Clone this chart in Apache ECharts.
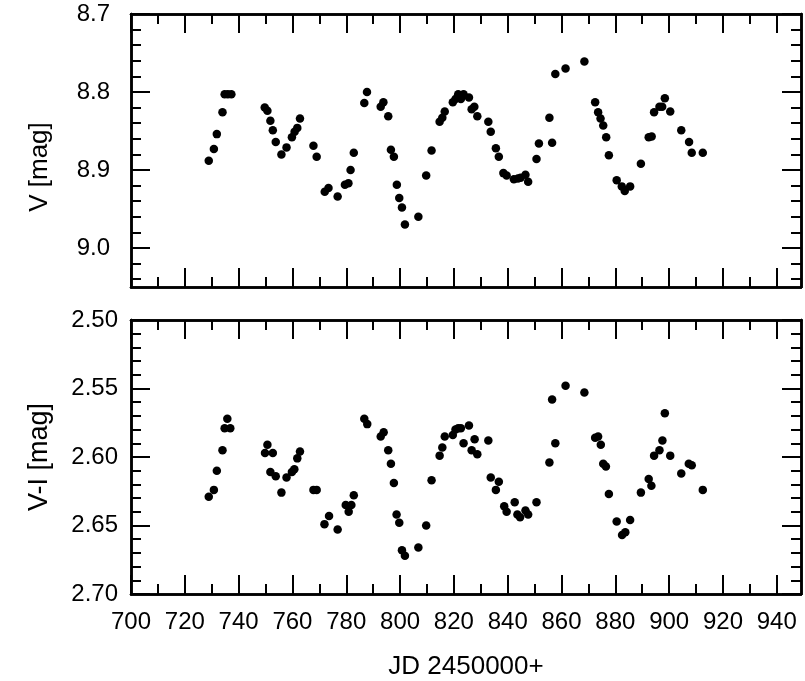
<!DOCTYPE html>
<html>
<head>
<meta charset="utf-8">
<script src="https://cdn.jsdelivr.net/npm/echarts@6/dist/echarts.min.js"></script>
<style>
html, body { margin: 0; padding: 0; background: #fff; }
#chart { width: 805px; height: 681px; }
</style>
</head>
<body>
<div id="chart"></div>
<script>
// V light curve (JD - 2450000, V mag)
const jdV = [728.9, 730.8, 731.9, 734.0, 734.8, 736.0, 737.3, 749.7, 750.7, 751.8,
  752.7, 753.8, 755.9, 757.8, 759.8, 760.8, 761.8, 762.8, 767.8, 769.0,
  772.0, 773.4, 776.8, 779.5, 780.8, 781.6, 782.8, 786.7, 787.7, 792.8,
  793.8, 795.6, 796.6, 797.7, 798.8, 799.7, 800.7, 801.8, 806.8, 809.7,
  811.7, 814.7, 815.7, 816.6, 819.6, 820.6, 821.6, 822.6, 823.6, 825.6,
  826.6, 827.6, 828.7, 832.8, 833.7, 835.6, 836.7, 838.4, 839.6, 842.3,
  843.8, 844.8, 846.6, 847.6, 850.7, 851.6, 855.5, 856.5, 857.7, 861.5,
  868.5, 872.5, 873.6, 874.5, 875.5, 876.6, 877.6, 880.5, 882.4, 883.5,
  885.5, 889.5, 892.4, 893.5, 894.4, 896.4, 897.4, 898.4, 900.4, 904.5,
  907.4, 908.4, 912.5]
const magV = [8.888, 8.873, 8.854, 8.826, 8.803, 8.803, 8.803, 8.820, 8.824, 8.837,
  8.849, 8.864, 8.880, 8.871, 8.858, 8.851, 8.846, 8.834, 8.869, 8.883,
  8.928, 8.923, 8.934, 8.919, 8.917, 8.900, 8.878, 8.814, 8.800, 8.819,
  8.813, 8.831, 8.874, 8.883, 8.919, 8.936, 8.948, 8.970, 8.960, 8.907,
  8.875, 8.838, 8.833, 8.825, 8.813, 8.809, 8.803, 8.809, 8.803, 8.807,
  8.822, 8.819, 8.831, 8.838, 8.851, 8.872, 8.883, 8.904, 8.907, 8.912,
  8.911, 8.910, 8.906, 8.915, 8.886, 8.866, 8.833, 8.865, 8.777, 8.770,
  8.761, 8.813, 8.826, 8.834, 8.843, 8.858, 8.881, 8.913, 8.921, 8.927,
  8.921, 8.892, 8.858, 8.857, 8.826, 8.819, 8.819, 8.808, 8.825, 8.849,
  8.864, 8.878, 8.878]

// V-I colour curve
const jdVI = [728.9, 730.8, 731.9, 734.0, 734.8, 735.8, 736.9, 749.8, 750.7, 751.8,
  752.7, 753.8, 755.9, 757.8, 759.8, 760.7, 761.8, 762.8, 767.8, 769.0,
  771.9, 773.6, 776.8, 779.8, 780.9, 781.9, 782.8, 786.7, 787.8, 792.8,
  793.9, 795.6, 796.6, 797.7, 798.7, 799.7, 800.7, 801.8, 806.8, 809.7,
  811.7, 814.7, 815.7, 816.6, 819.6, 820.6, 821.6, 822.6, 823.6, 825.6,
  826.6, 827.7, 828.7, 832.8, 833.7, 835.6, 836.7, 838.7, 839.6, 842.6,
  843.6, 844.6, 846.6, 847.6, 850.7, 855.5, 856.5, 857.7, 861.5, 868.5,
  872.5, 873.6, 874.6, 875.5, 876.5, 877.6, 880.5, 882.5, 883.7, 885.5,
  889.5, 892.4, 893.4, 894.4, 896.4, 897.5, 898.4, 900.4, 904.5, 907.3,
  908.4, 912.5]
const colVI = [2.629, 2.624, 2.610, 2.595, 2.579, 2.572, 2.579, 2.597, 2.591, 2.611,
  2.597, 2.614, 2.626, 2.615, 2.611, 2.609, 2.601, 2.596, 2.624, 2.624,
  2.649, 2.643, 2.653, 2.635, 2.640, 2.635, 2.628, 2.572, 2.576, 2.585,
  2.582, 2.595, 2.605, 2.619, 2.642, 2.648, 2.668, 2.672, 2.666, 2.650,
  2.617, 2.599, 2.593, 2.585, 2.584, 2.580, 2.579, 2.579, 2.590, 2.577,
  2.595, 2.587, 2.598, 2.588, 2.615, 2.624, 2.618, 2.636, 2.640, 2.633,
  2.642, 2.644, 2.639, 2.642, 2.633, 2.604, 2.558, 2.590, 2.548, 2.553,
  2.586, 2.585, 2.591, 2.605, 2.607, 2.627, 2.647, 2.657, 2.655, 2.646,
  2.626, 2.616, 2.621, 2.599, 2.595, 2.588, 2.568, 2.599, 2.612, 2.605,
  2.606, 2.624]

// tick positions
const xMajor = [700, 720, 740, 760, 780, 800, 820, 840, 860, 880, 900, 920, 940]
const xMinor = [710, 730, 750, 770, 790, 810, 830, 850, 870, 890, 910, 930]
const vMajor = [8.7, 8.8, 8.9, 9.0]
const vMinor = [8.72, 8.74, 8.76, 8.78, 8.82, 8.84, 8.86, 8.88, 8.92, 8.94, 8.96, 8.98, 9.02, 9.04]
const viMajor = [2.50, 2.55, 2.60, 2.65, 2.70]
const viMinor = [2.51, 2.52, 2.53, 2.54, 2.56, 2.57, 2.58, 2.59, 2.61, 2.62, 2.63, 2.64,
  2.66, 2.67, 2.68, 2.69]

const ink = '#000'
const font = 'Liberation Sans'

const tick = (values, len) => ({
    show: true, inside: true, length: len, customValues: values,
    lineStyle: { color: ink, width: 2 }
})
const line = { show: true, onZero: false, lineStyle: { color: ink, width: 2.5 } }

// four axes per side pair: main (with labels), minor, mirrored major, mirrored minor
function makeAxes(grid, min, max, major, minor, opts) {
    const base = { type: 'value', gridIndex: grid, min: min, max: max, inverse: !!opts.inverse,
        axisLine: line, splitLine: { show: false }, axisLabel: { show: false } }
    return [
        Object.assign({}, base, { position: opts.pos[0], axisTick: tick(major, 19), axisLabel: opts.label || { show: false } }, opts.name || {}),
        Object.assign({}, base, { position: opts.pos[0], axisTick: tick(minor, 10) }),
        Object.assign({}, base, { position: opts.pos[1], axisTick: tick(major, 19) }),
        Object.assign({}, base, { position: opts.pos[1], axisTick: tick(minor, 10) })
    ]
}

const labelStyle = (values, digits, margin) => ({
    show: true, customValues: values, color: ink, fontFamily: font, fontSize: 24, margin: margin,
    formatter: (v) => v.toFixed(digits)
})

const xAxis = [].concat(
    makeAxes(0, 700, 949, xMajor, xMinor, { pos: ['bottom', 'top'] }),
    makeAxes(1, 700, 949, xMajor, xMinor, {
        pos: ['bottom', 'top'],
        label: labelStyle(xMajor, 0, 16),
        name: { name: 'JD 2450000+', nameLocation: 'middle', nameGap: 60,
            nameTextStyle: { color: ink, fontFamily: font, fontSize: 26 } }
    })
)
const yAxis = [].concat(
    makeAxes(0, 8.7, 9.05, vMajor, vMinor, {
        pos: ['left', 'right'], inverse: true,
        label: labelStyle(vMajor, 1, 21),
        name: { name: 'V [mag]', nameLocation: 'middle', nameGap: 78, nameRotate: 90,
            nameTextStyle: { color: ink, fontFamily: font, fontSize: 26, padding: [0, 33, 0, 0] } }
    }),
    makeAxes(1, 2.5, 2.7, viMajor, viMinor, {
        pos: ['left', 'right'], inverse: true,
        label: labelStyle(viMajor, 2, 13),
        name: { name: 'V-I [mag]', nameLocation: 'middle', nameGap: 78, nameRotate: 90,
            nameTextStyle: { color: ink, fontFamily: font, fontSize: 27 } }
    })
)

const chart = echarts.init(document.getElementById('chart'))
chart.setOption({
    animation: false,
    backgroundColor: '#fff',
    grid: [
        { left: 131, right: 4, top: 14, height: 273 },
        { left: 131, right: 4, top: 320, height: 274 }
    ],
    xAxis: xAxis,
    yAxis: yAxis,
    series: [
        {
            type: 'scatter', xAxisIndex: 0, yAxisIndex: 0,
            symbol: 'circle', symbolSize: 8.5, itemStyle: { color: ink, opacity: 1 },
            data: jdV.map((d, i) => [d, magV[i]])
        },
        {
            type: 'scatter', xAxisIndex: 4, yAxisIndex: 4,
            symbol: 'circle', symbolSize: 8.5, itemStyle: { color: ink, opacity: 1 },
            data: jdVI.map((d, i) => [d, colVI[i]])
        }
    ]
})
</script>
</body>
</html>
